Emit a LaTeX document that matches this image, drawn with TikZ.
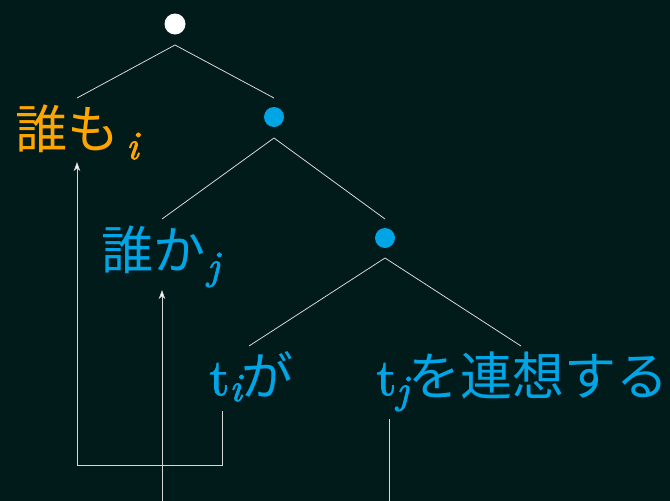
\documentclass[tikz,border=0pt]{standalone}
\usepackage{fontspec}
\setmainfont{lmroman10-regular.otf}[ItalicFont=lmroman10-italic.otf,FakeBold=1.5,ItalicFeatures={FakeBold=2}]
\newfontfamily\cjk{Noto Sans CJK JP}
\usetikzlibrary{arrows.meta}
\definecolor{bg}{RGB}{1,26,26}
\definecolor{orng}{RGB}{255,165,0}
\definecolor{blu}{RGB}{0,165,230}
\definecolor{ln}{RGB}{215,215,215}
\newcommand{\bigf}{\fontsize{52}{62}\selectfont}
\newcommand{\subf}[1]{{\fontsize{40}{44}\selectfont\itshape #1}}
\begin{document}
\begin{tikzpicture}[x=1pt,y=-1pt,
  dotw/.style={circle,fill=white,minimum size=21pt,inner sep=0pt},
  dotb/.style={circle,fill=blu,minimum size=20pt,inner sep=0pt},
  lbl/.style={anchor=base west,inner sep=0pt,font=\bigf},
  edge/.style={draw=ln,line width=0.8pt},
  arr/.style={draw=ln,line width=0.8pt,-{Stealth[length=9pt,width=6.5pt,inset=2.5pt,fill=white]}}]
\fill[bg] (0,0) rectangle (670,501);
\useasboundingbox (0,0) rectangle (670,501);
% tree nodes
\node[dotw] (r) at (175,24) {};
\node[dotb] (n1) at (274,117) {};
\node[dotb] (n2) at (385,238) {};
% labels
\node[lbl,text=orng] (A) at (15,148) {{\cjk 誰も}\hspace{7pt}\raisebox{-11pt}{\subf{i}}};
\node[lbl,text=blu] (B) at (101,269) {{\cjk 誰か}\hspace{2pt}\raisebox{-10pt}{\subf{j}}};
\node[lbl,text=blu] (C) at (209,395) {t\raisebox{-6pt}{\subf{i}}{\cjk が}};
\node[lbl,text=blu] (D) at (376,395) {t\raisebox{-8pt}{\subf{j}}{\cjk を連想する}};
% connection points
\coordinate (r-b) at (175,45);
\coordinate (n1-t) at (274,98);
\coordinate (n1-b) at (274,138);
\coordinate (n2-t) at (385,219);
\coordinate (n2-b) at (385,258);
\coordinate (A-t) at (77,98);
\coordinate (B-t) at (162,219);
\coordinate (C-t) at (249,346);
\coordinate (D-t) at (521,346);
\coordinate (A-b) at (77,162);
\coordinate (B-b) at (162,290);
\coordinate (C-b) at (222,411);
\coordinate (D-b) at (389,419);
\coordinate (bot1) at (162,501);
\coordinate (bot2) at (389,501);
% tree edges
\draw[edge] (A-t) -- (r-b) -- (n1-t);
\draw[edge] (B-t) -- (n1-b) -- (n2-t);
\draw[edge] (C-t) -- (n2-b) -- (D-t);
% movement arrows
\draw[arr] (C-b) -- ++(0,54) -| (A-b);
\draw[arr] (bot1) -- (B-b);
\draw[edge] (D-b) -- (bot2);
\end{tikzpicture}
\end{document}
